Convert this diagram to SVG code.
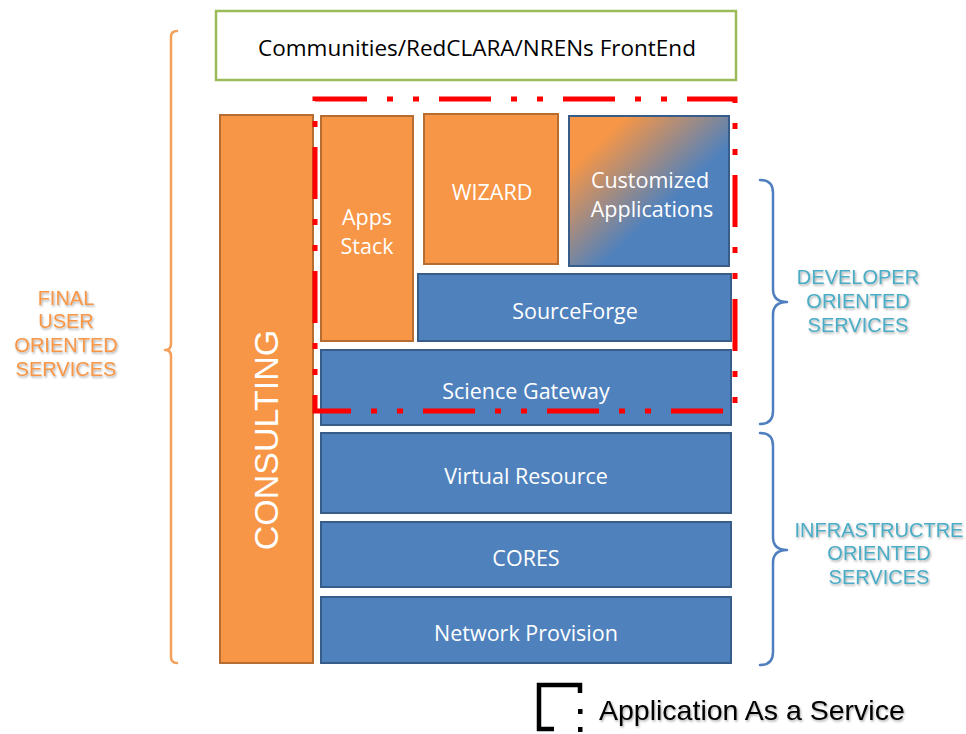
<svg xmlns="http://www.w3.org/2000/svg" width="966" height="734" viewBox="0 0 966 734">
<defs>
<linearGradient id="gAC" x1="0" y1="0" x2="1" y2="1">
<stop offset="0" stop-color="#f79646"/>
<stop offset="0.18" stop-color="#f79646"/>
<stop offset="0.6" stop-color="#4f81bd"/>
<stop offset="1" stop-color="#4f81bd"/>
</linearGradient>
<filter id="sh" x="-10%" y="-10%" width="130%" height="140%">
<feDropShadow dx="1" dy="1.5" stdDeviation="1" flood-color="#000" flood-opacity="0.35"/>
</filter>
</defs>
<style>
.org{fill:#f79646;stroke:#b66d31;stroke-width:2}
.blu{fill:#4f81bd;stroke:#385d8a;stroke-width:2}
.lbl{font-family:"Open Sans","Noto Sans",sans-serif;font-size:21.5px;fill:#ffffff;text-anchor:middle}
.side{font-family:"Liberation Sans",Arial,sans-serif;font-size:20px;text-anchor:middle}
.br{fill:none;stroke-width:2.5;stroke-linecap:round;stroke-linejoin:round}
</style>
<rect width="966" height="734" fill="#ffffff"/>

<g id="frontend">
<rect x="216" y="11" width="520" height="69" fill="#ffffff" stroke="#9bbb59" stroke-width="2.5"/>
<text x="477" y="56" font-family="Open Sans,Noto Sans,sans-serif" font-size="22.5" fill="#000" text-anchor="middle">Communities/RedCLARA/NRENs FrontEnd</text>
</g>

<g id="consulting">
<rect class="org" x="220" y="115" width="93" height="548"/>
<text transform="translate(278,440) rotate(-90)" font-family="Liberation Sans,Arial,sans-serif" font-size="34" fill="#fff" text-anchor="middle">CONSULTING</text>
</g>

<g id="apps-stack">
<rect class="org" x="321" y="116" width="92" height="225"/>
<text class="lbl" x="367" y="225">Apps</text>
<text class="lbl" x="367" y="254">Stack</text>
</g>

<g id="wizard">
<rect class="org" x="424" y="114" width="134" height="150"/>
<text class="lbl" x="492" y="200">WIZARD</text>
</g>

<g id="customized-applications">
<rect x="569" y="116" width="160" height="150" fill="url(#gAC)" stroke="#385d8a" stroke-width="2"/>
<text class="lbl" x="650" y="188">Customized</text>
<text class="lbl" x="652" y="217">Applications</text>
</g>

<g id="sourceforge">
<rect class="blu" x="418" y="274" width="313" height="67"/>
<text class="lbl" x="575" y="319">SourceForge</text>
</g>

<g id="science-gateway">
<rect class="blu" x="321" y="350" width="410" height="75"/>
<text class="lbl" x="526" y="399">Science Gateway</text>
</g>

<g id="virtual-resource">
<rect class="blu" x="321" y="433" width="410" height="80"/>
<text class="lbl" x="526" y="484">Virtual Resource</text>
</g>

<g id="cores">
<rect class="blu" x="321" y="522" width="410" height="65"/>
<text class="lbl" x="526" y="566">CORES</text>
</g>

<g id="network-provision">
<rect class="blu" x="321" y="597" width="410" height="66"/>
<text class="lbl" x="526" y="641">Network Provision</text>
</g>

<g id="aaas-boundary">
<rect x="315" y="99" width="420" height="312" fill="none" stroke="#ff0000" stroke-width="5" stroke-dasharray="52 20 6 20 6 20"/>
</g>

<g id="connectors">
<path class="br" stroke="#f4a05a" d="M177,31 Q171,31 171,37 L171,344 Q171,350 165,350 Q171,350 171,356 L171,657 Q171,663 177,663"/>
<path class="br" stroke="#4f7fbf" d="M760,180 Q773,180 773,193 L773,289 Q773,302 787,302 Q773,302 773,315 L773,411 Q773,424 760,424"/>
<path class="br" stroke="#4f7fbf" d="M760,433 Q773,433 773,446 L773,537 Q773,550 787,550 Q773,550 773,563 L773,652 Q773,665 760,665"/>
</g>

<g id="final-user-label" filter="url(#sh)">
<text class="side" x="66" y="305" fill="#f79646">FINAL</text>
<text class="side" x="66" y="328" fill="#f79646">USER</text>
<text class="side" x="66" y="352" fill="#f79646">ORIENTED</text>
<text class="side" x="66" y="376" fill="#f79646">SERVICES</text>
</g>

<g id="developer-label" filter="url(#sh)">
<text class="side" x="858" y="284" fill="#4bacc6">DEVELOPER</text>
<text class="side" x="858" y="308" fill="#4bacc6">ORIENTED</text>
<text class="side" x="858" y="332" fill="#4bacc6">SERVICES</text>
</g>

<g id="infrastructure-label" filter="url(#sh)">
<text class="side" x="879" y="537" fill="#4bacc6">INFRASTRUCTRE</text>
<text class="side" x="879" y="560" fill="#4bacc6">ORIENTED</text>
<text class="side" x="879" y="584" fill="#4bacc6">SERVICES</text>
</g>

<g id="legend">
<path d="M554,729 L539,729 L539,685 L580,685 L580,693" fill="none" stroke="#000" stroke-width="4.5"/>
<rect x="578" y="709" width="4.5" height="5" fill="#000"/>
<rect x="578" y="727" width="4.5" height="5" fill="#000"/>
<text x="599" y="720" font-family="Liberation Sans,Arial,sans-serif" font-size="28.5" fill="#000" filter="url(#sh)">Application As a Service</text>
</g>
</svg>
